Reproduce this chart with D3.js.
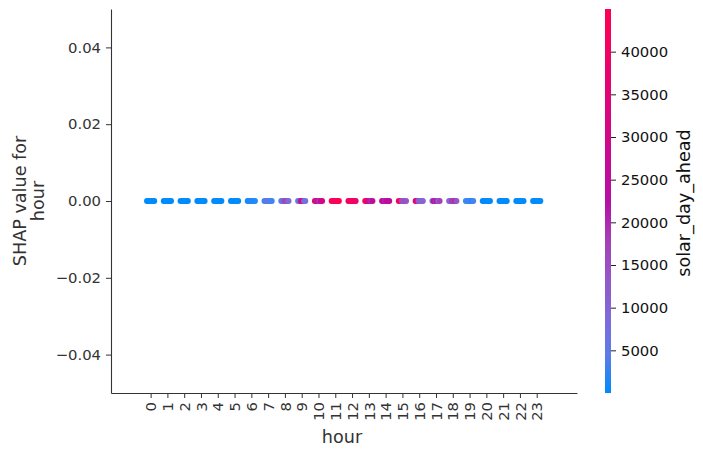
<!DOCTYPE html>
<html>
<head>
<meta charset="utf-8">
<script src="https://cdn.jsdelivr.net/npm/d3@7"></script>
<style>
	body { margin: 0; background: white; }
	text { font-family: "DejaVu Sans", sans-serif; }
</style>
</head>
<body>
<svg class="chart" width="703" height="457"></svg>
<script>
// hours on the x axis
let hours = d3.range(0, 24);
let hourLabels = hours.map(h => String(h));

// solar_day_ahead of each point, per hour, left to right inside the cluster
let solar = [
	[0, 0, 0, 0, 0, 0],
	[0, 0, 0, 0, 0, 0],
	[0, 0, 0, 0, 0, 0],
	[0, 0, 0, 0, 0, 0],
	[0, 0, 0, 0, 0, 0],
	[0, 0, 0, 0, 0, 0],
	[200, 500, 300, 800, 400, 600],
	[1500, 3000, 9000, 2500, 4000, 2000],
	[3000, 6000, 15000, 18000, 13000, 9000],
	[5000, 8000, 30000, 28000, 10000, 7000],
	[38000, 22000, 35000, 19000, 25000, 31000],
	[42000, 44000, 40000, 43000, 41000, 45000],
	[40000, 42000, 36000, 44000, 41000, 39000],
	[43000, 41000, 30000, 22000, 20000, 25000],
	[22000, 24000, 21000, 26000, 23000, 25000],
	[42000, 40000, 15000, 13000, 16000, 14000],
	[33000, 35000, 10000, 12000, 9000, 11000],
	[8000, 28000, 20000, 22000, 7000, 18000],
	[12000, 9000, 19000, 17000, 21000, 14000],
	[1000, 2000, 3000, 1500, 500, 2500],
	[0, 0, 0, 0, 0, 0],
	[0, 0, 0, 0, 0, 0],
	[0, 0, 0, 0, 0, 0],
	[0, 0, 0, 0, 0, 0]
];

// SHAP values are all zero for this feature
let shapValues = solar.map(row => row.map(() => 0));

let yTicks = [-0.04, -0.02, 0.00, 0.02, 0.04];
let cbTicks = [5000, 10000, 15000, 20000, 25000, 30000, 35000, 40000];

let xLabel = "hour";
let yLabel = ["SHAP value for", "hour"];
let cbLabel = "solar_day_ahead";

function drawChart() {
	var svg = d3.select(".chart");
	let axisColor = "#333333";

	let left = 111, right = 577, top = 9, bottom = 393;

	var xScale = d3.scaleLinear()
	               .domain([-2.36, 25.4])
	               .range([left, right]);
	var yScale = d3.scaleLinear()
	               .domain([-0.05, 0.05])
	               .range([bottom, top]);
	var colorScale = d3.scaleLinear()
	                   .domain([0, 22500, 45000])
	                   .range(["#008bfb", "#b40fa6", "#ff0051"])
	                   .interpolate(d3.interpolateLab);

	let points = [];
	hours.forEach((h, i) => {
		let n = solar[i].length;
		solar[i].forEach((v, j) => {
			points.push({hour: h, jit: (j / (n - 1) - 0.5) * 0.44, value: v, shap: shapValues[i][j]});
		});
	});

	svg.append("g")
	   .selectAll("circle")
	   .data(points)
	   .enter()
	   .append("circle")
	   .attr("cx", d => xScale(d.hour + d.jit))
	   .attr("cy", d => yScale(d.shap))
	   .attr("r", 2.9)
	   .attr("fill", d => colorScale(d.value));

	// x axis
	let gx = svg.append("g")
	            .attr("transform", `translate(0, ${bottom})`)
	            .call(d3.axisBottom(xScale).tickValues(hours).tickFormat((d, i) => hourLabels[i]).tickSize(5).tickPadding(4).tickSizeOuter(0));
	gx.select(".domain").attr("stroke", axisColor).attr("stroke-width", 1.1);
	gx.selectAll(".tick line").attr("stroke", axisColor);
	gx.selectAll(".tick text")
	  .attr("fill", axisColor)
	  .attr("font-size", "14.8px")
	  .attr("transform", "rotate(-90)")
	  .attr("text-anchor", "end")
	  .attr("dy", "0.35em")
	  .attr("x", -9)
	  .attr("y", 0);

	// y axis
	let gy = svg.append("g")
	            .attr("transform", `translate(${left}, 0)`)
	            .call(d3.axisLeft(yScale).tickValues(yTicks).tickFormat(d => d3.format(".2f")(d).replace("-", "\u2212")).tickSize(5).tickPadding(5).tickSizeOuter(0));
	gy.select(".domain").attr("stroke", axisColor).attr("stroke-width", 1.1);
	gy.selectAll(".tick line").attr("stroke", axisColor);
	gy.selectAll(".tick text")
	  .attr("fill", axisColor)
	  .attr("font-size", "14.8px");

	svg.append("text")
	   .attr("x", (left + right) / 2 - 2)
	   .attr("y", 443)
	   .attr("text-anchor", "middle")
	   .attr("font-size", "17.6px")
	   .attr("fill", axisColor)
	   .text(xLabel);

	yLabel.forEach((t, i) => {
		svg.append("text")
		   .attr("transform", `translate(${26 + i * 18}, ${(top + bottom) / 2}) rotate(-90)`)
		   .attr("text-anchor", "middle")
		   .attr("font-size", "17.6px")
		   .attr("fill", axisColor)
		   .text(t);
	});

	// colorbar
	let cbX = 605, cbW = 6;
	var cScale = d3.scaleLinear()
	               .domain([0, 45000])
	               .range([bottom, top]);

	let grad = svg.append("defs").append("linearGradient")
	              .attr("id", "cbgrad")
	              .attr("x1", 0).attr("y1", 1)
	              .attr("x2", 0).attr("y2", 0);
	d3.range(0, 11).forEach(k => {
		grad.append("stop")
		    .attr("offset", k / 10)
		    .attr("stop-color", colorScale(k / 10 * 45000));
	});

	svg.append("rect")
	   .attr("x", cbX)
	   .attr("y", top)
	   .attr("width", cbW)
	   .attr("height", bottom - top)
	   .attr("fill", "url(#cbgrad)");

	let gc = svg.append("g")
	            .attr("transform", `translate(${cbX + cbW}, 0)`)
	            .call(d3.axisRight(cScale).tickValues(cbTicks).tickFormat(d3.format("d")).tickSize(5).tickPadding(5));
	gc.select(".domain").remove();
	gc.selectAll(".tick line").attr("stroke", "#222");
	gc.selectAll(".tick text")
	  .attr("fill", "#111")
	  .attr("font-size", "14.8px");

	svg.append("text")
	   .attr("transform", `translate(690, ${(top + bottom) / 2 + 2}) rotate(-90)`)
	   .attr("text-anchor", "middle")
	   .attr("font-size", "17.6px")
	   .attr("fill", "#111")
	   .text(cbLabel);
}

drawChart();
</script>
</body>
</html>
